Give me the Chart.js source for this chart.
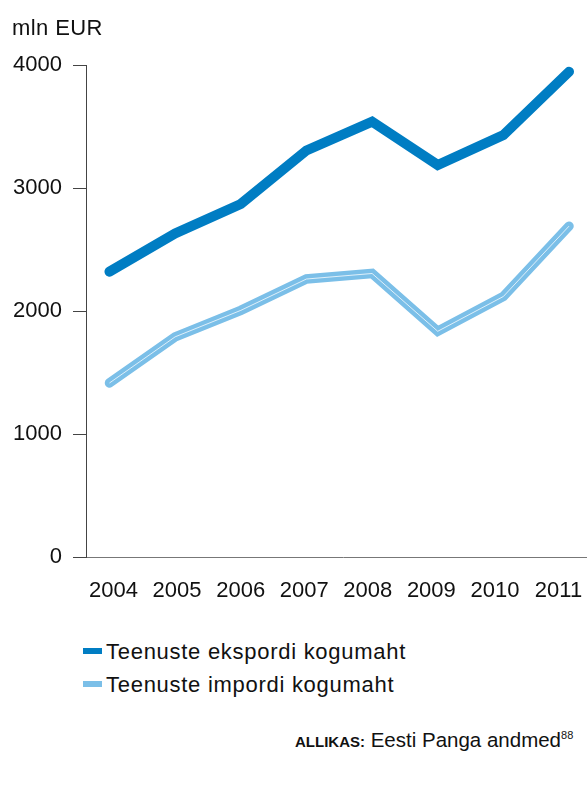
<!DOCTYPE html>
<html><head><meta charset="utf-8">
<script src="https://cdn.jsdelivr.net/npm/chart.js@4/dist/chart.umd.min.js"></script>
<style>
html,body{margin:0;padding:0;background:#fff;overflow:hidden;width:587px;height:787px;}
body{position:relative;font-family:"Liberation Sans",Arial,Helvetica,sans-serif;color:#111;}
#wrap{position:absolute;left:0;top:0;width:620px;height:620px;}
.t{position:absolute;white-space:nowrap;line-height:1;}
.sw{position:absolute;width:19px;height:6px;}
</style></head><body>
<div id="wrap"><canvas id="c"></canvas></div>
<div class="t" id="unit" style="left:12px;top:17px;font-size:22px;letter-spacing:0.4px"></div>
<div class="sw" id="sw0" style="left:83px;top:648px"></div>
<div class="t" id="lg0" style="left:106px;top:641px;font-size:22px;letter-spacing:0.72px"></div>
<div class="sw" id="sw1" style="left:83px;top:681px"></div>
<div class="t" id="lg1" style="left:106px;top:674px;font-size:22px;letter-spacing:0.72px"></div>
<div class="t" style="left:295px;top:730px;font-size:20.5px"><span style="font-size:15px;font-weight:bold">ALLIKAS:</span> Eesti Panga andmed<span style="font-size:11px;vertical-align:8px">88</span></div>
<script>
const unitLabel = 'mln EUR';
const years = [2004, 2005, 2006, 2007, 2008, 2009, 2010, 2011];
const exportValues = [2320, 2630, 2870, 3305, 3540, 3187, 3431, 3945];
const importValues = [1415, 1790, 2005, 2260, 2305, 1835, 2118, 2690];
const yTicks = [0, 1000, 2000, 3000, 4000];
const seriesNames = ['Teenuste ekspordi kogumaht', 'Teenuste impordi kogumaht'];
const colors = ['#007dc3', '#7bbfe8'];

document.getElementById('unit').textContent = unitLabel;
document.getElementById('lg0').textContent = seriesNames[0];
document.getElementById('lg1').textContent = seriesNames[1];
document.getElementById('sw0').style.background = colors[0];
document.getElementById('sw1').style.background = colors[1];

const toPts = arr => years.map((yr, i) => ({x: yr, y: arr[i]}));
const font = {family: '"Liberation Sans", Arial, Helvetica, sans-serif', size: 22};

new Chart(document.getElementById('c'), {
  type: 'line',
  data: {
    datasets: [
      {label: seriesNames[1] + ' (highlight)', data: toPts(importValues), borderColor: 'rgba(255,255,255,0.75)', borderWidth: 1, pointRadius: 0, order: 0, borderJoinStyle: 'miter', xAxisID: 'x', yAxisID: 'y'},
      {label: seriesNames[0], data: toPts(exportValues), borderColor: colors[0], borderWidth: 10, pointRadius: 0, order: 1, borderCapStyle: 'round', borderJoinStyle: 'miter', xAxisID: 'x', yAxisID: 'y'},
      {label: seriesNames[1], data: toPts(importValues), borderColor: colors[1], borderWidth: 9.5, pointRadius: 0, order: 2, borderCapStyle: 'round', borderJoinStyle: 'miter', xAxisID: 'x', yAxisID: 'y'}
    ]
  },
  options: {
    responsive: true,
    maintainAspectRatio: false,
    animation: false,
    devicePixelRatio: 1,
    layout: {padding: {top: 65, right: 20, bottom: 0, left: 0}},
    plugins: {legend: {display: false}, tooltip: {enabled: false}},
    scales: {
      x: {type: 'linear', min: 2003.642, max: 2011.472, display: false},
      xl: {
        type: 'linear', position: 'bottom', min: 2003.567, max: 2011.653,
        afterBuildTicks: s => { s.ticks = years.map(v => ({value: v})); },
        afterFit: s => { s.height = 63; },
        ticks: {callback: v => String(v), font: font, color: '#111', padding: 21, autoSkip: false, maxRotation: 0},
        grid: {display: false, drawTicks: false},
        border: {display: true, color: '#777', width: 1}
      },
      y: {
        type: 'linear', position: 'left', min: 0, max: 4000,
        afterBuildTicks: s => { s.ticks = yTicks.map(v => ({value: v})); },
        afterFit: s => { s.width = 86; },
        ticks: {callback: v => String(v), font: font, color: '#111', padding: 11},
        grid: {display: true, drawOnChartArea: false, drawTicks: true, tickLength: 13, color: '#444', lineWidth: 1},
        border: {display: true, color: '#444', width: 1}
      }
    }
  }
});
</script>
</body></html>
